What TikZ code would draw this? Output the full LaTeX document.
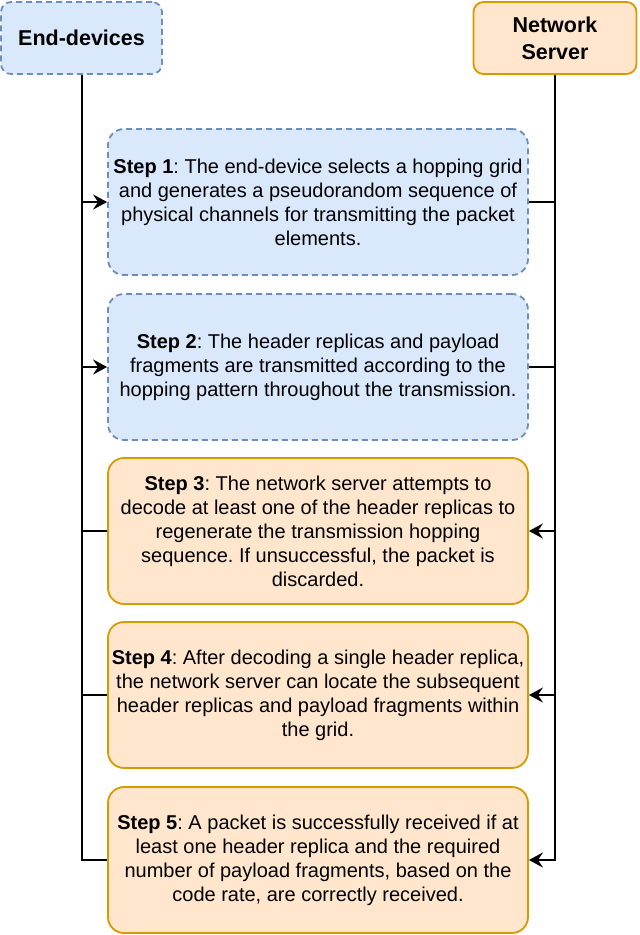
\documentclass[tikz,border=0pt]{standalone}
\usepackage{fontspec}
\setmainfont{Liberation Sans}
\frenchspacing
\usetikzlibrary{arrows.meta}
\definecolor{bfill}{HTML}{DAE8FC}
\definecolor{bline}{HTML}{6C8EBF}
\definecolor{ofill}{HTML}{FFE6CC}
\definecolor{oline}{HTML}{D79B00}
\tikzset{
  bluebox/.style={draw=bline, fill=bfill, dash pattern=on 6pt off 4pt, line width=1.8pt},
  orangebox/.style={draw=oline, fill=ofill, line width=1.8pt},
  header/.style={rounded corners=10pt, minimum width=161pt, minimum height=72pt, align=center, font=\fontsize{21.5}{27}\selectfont\bfseries},
  stepbox/.style={rounded corners=16pt, minimum width=420pt, minimum height=146pt, align=center, font=\fontsize{20}{24}\selectfont},
  conn/.style={line width=2pt, black},
  arr/.style={conn, -{Stealth[length=14pt, width=15pt, inset=5pt]}}
}
\begin{document}
\begin{tikzpicture}[x=1pt, y=-1pt]
\useasboundingbox (0,0) rectangle (640,935);
\node[header, bluebox] (ed) at (81.5,38) {End-devices};
\node[header, orangebox, minimum width=163pt] (ns) at (555,38) {Network\\Server};
\node[stepbox, bluebox] (s1) at (318,202) {\textbf{Step 1}: The end-device selects a hopping grid\\and generates a pseudorandom sequence of\\physical channels for transmitting the packet\\elements.};
\node[stepbox, bluebox] (s2) at (318,367) {\textbf{Step 2}: The header replicas and payload\\fragments are transmitted according to the\\hopping pattern throughout the transmission.};
\node[stepbox, orangebox] (s3) at (318,531) {\textbf{Step 3}: The network server attempts to\\decode at least one of the header replicas to\\regenerate the transmission hopping\\sequence. If unsuccessful, the packet is\\discarded.};
\node[stepbox, orangebox] (s4) at (318,695) {\textbf{Step 4}: After decoding a single header replica,\\the network server can locate the subsequent\\header replicas and payload fragments within\\the grid.};
\node[stepbox, orangebox] (s5) at (318,860) {\textbf{Step 5}: A packet is successfully received if at\\least one header replica and the required\\number of payload fragments, based on the\\code rate, are correctly received.};
\draw[conn] (ed.south) |- (s5.west);
\draw[arr] (ns.south) |- (s5.east);
\draw[arr] (s1.west -| ed.south) -- (s1.west);
\draw[arr] (s2.west -| ed.south) -- (s2.west);
\draw[conn] (s3.west -| ed.south) -- (s3.west);
\draw[conn] (s4.west -| ed.south) -- (s4.west);
\draw[conn] (s1.east -| ns.south) -- (s1.east);
\draw[conn] (s2.east -| ns.south) -- (s2.east);
\draw[arr] (s3.east -| ns.south) -- (s3.east);
\draw[arr] (s4.east -| ns.south) -- (s4.east);
\end{tikzpicture}
\end{document}
